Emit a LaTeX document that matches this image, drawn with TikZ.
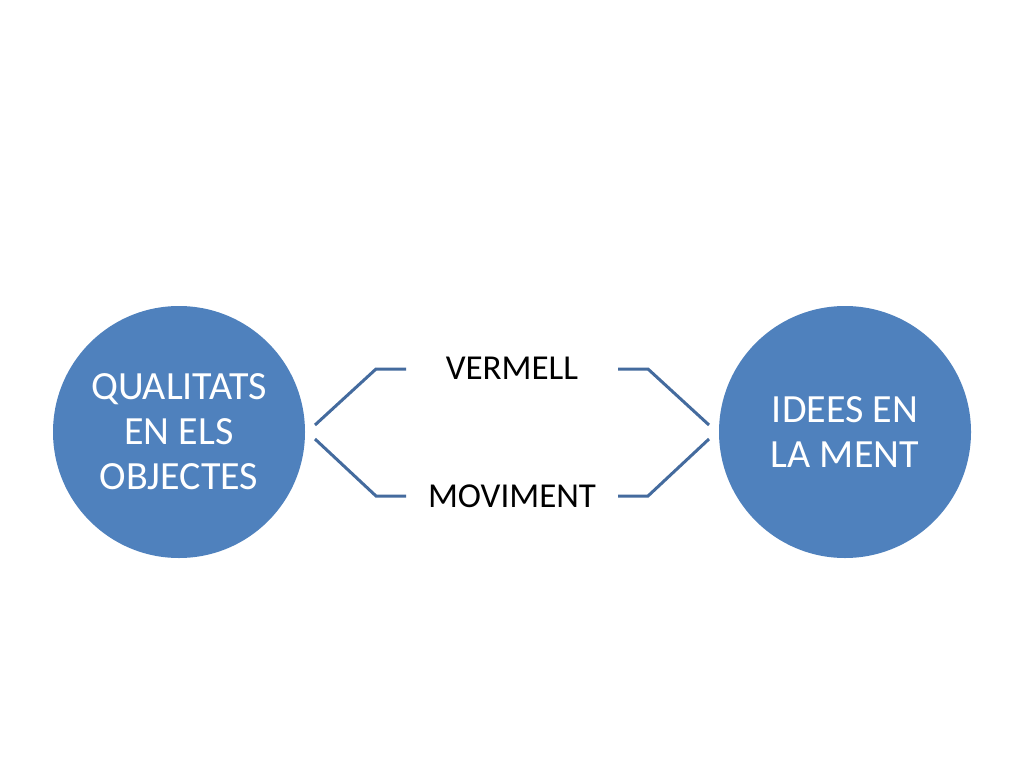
\documentclass[tikz,border=0pt]{standalone}
\usepackage{fontspec}
\setmainfont{Carlito}
\definecolor{circfill}{HTML}{4F81BD}
\definecolor{linecol}{RGB}{68,107,158}
\begin{document}
\begin{tikzpicture}[x=1pt,y=-1pt,
  bigcirc/.style={circle,fill=circfill,draw=none,minimum size=252pt,inner sep=0pt,
    text=white,align=center,font=\fontsize{40}{45}\selectfont},
  lbl/.style={anchor=base,inner sep=0pt,font=\fontsize{35}{40}\selectfont},
  conn/.style={draw=linecol,line width=3pt}]
\useasboundingbox[fill=white] (0,0) rectangle (1024,768);
\node[bigcirc] (L) at (179,432) {QUALITATS\\EN ELS\\OBJECTES};
\node[bigcirc] (R) at (845,432) {IDEES EN\\LA MENT};
\node[lbl] (v) at (512,379) {VERMELL};
\node[lbl] (m) at (512,507) {MOVIMENT};
\coordinate (lt0) at (315,425);
\coordinate (lt1) at (376,369);
\coordinate (lt2) at (406,369);
\coordinate (lb0) at (315,439);
\coordinate (lb1) at (376,496);
\coordinate (lb2) at (406,496);
\coordinate (rt0) at (618,369);
\coordinate (rt1) at (648,369);
\coordinate (rt2) at (709,425);
\coordinate (rb0) at (618,496);
\coordinate (rb1) at (648,496);
\coordinate (rb2) at (709,439);
\draw[conn] (lt0) -- (lt1) -- (lt2);
\draw[conn] (lb0) -- (lb1) -- (lb2);
\draw[conn] (rt0) -- (rt1) -- (rt2);
\draw[conn] (rb0) -- (rb1) -- (rb2);
\end{tikzpicture}
\end{document}
